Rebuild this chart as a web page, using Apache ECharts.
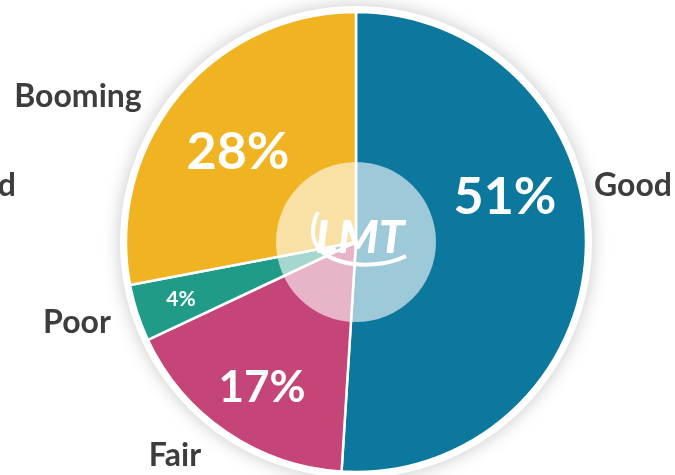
<!DOCTYPE html>
<html>
<head>
<meta charset="utf-8">
<script src="https://cdn.jsdelivr.net/npm/echarts@6/dist/echarts.min.js"></script>
<style>
    html, body { margin: 0; padding: 0; background: #fff; }
    #chart { width: 675px; height: 475px; }
</style>
</head>
<body>
<div id="chart"></div>
<script>
    // market condition shares
    var categories = ['Good', 'Fair', 'Poor', 'Booming'];
    var shares = [51, 17, 4, 28];
    var colors = ['#0c789d', '#c64579', '#1f9b87', '#f0b321'];

    // where the labels sit (percent labels inside, names outside)
    var pctSpots = [[505, 197, 52], [262, 388, 44], [181, 299, 21], [238, 152, 52]];
    var nameSpots = [[633, 186], [175, 456], [77, 323], [78, 97]];

    var chart = echarts.init(document.getElementById('chart'));

    var pieData = categories.map(function (name, i) {
        return {
            name: name, value: shares[i],
            itemStyle: {color: colors[i]},
            label: {fontSize: pctSpots[i][2]}
        };
    });

    chart.setOption({
        animation: false,
        textStyle: {fontFamily: 'Lato'},
        graphic: [
            // cut-off label on the far left
            {
                type: 'text', x: 16, y: 186, z: 10,
                style: {
                    text: 'Bad', fill: '#3d3d3d', align: 'right', verticalAlign: 'middle',
                    font: 'bold 32px Lato'
                }
            },
            // LMT logo swoosh
            {
                type: 'bezierCurve', z: 20, silent: true,
                shape: {x1: 318, y1: 212, cpx1: 292, cpy1: 266, cpx2: 372, cpy2: 274, x2: 406, y2: 256},
                style: {stroke: '#fff', lineWidth: 4, fill: null}
            },
            {
                type: 'text', z: 20, x: 360, y: 238, silent: true,
                style: {
                    text: 'LMT', fill: '#fff', align: 'center', verticalAlign: 'middle',
                    font: 'italic 900 46px Lato'
                }
            }
        ],
        series: [
            {
                // white ring with soft shadow
                type: 'pie', silent: true, z: 1,
                center: [356, 242], radius: [0, 236],
                label: {show: false}, labelLine: {show: false},
                itemStyle: {color: '#fff', shadowBlur: 18, shadowColor: 'rgba(0,0,0,0.22)'},
                data: [1]
            },
            {
                type: 'pie', z: 2,
                center: [356, 242], radius: [0, 230],
                startAngle: 90, clockwise: true,
                itemStyle: {borderColor: '#fff', borderWidth: 2.5},
                label: {
                    show: true, position: 'inside', color: '#fff',
                    formatter: '{c}%', fontWeight: 'bold'
                },
                labelLayout: function (p) {
                    var s = pctSpots[p.dataIndex];
                    return {x: s[0], y: s[1], align: 'center', verticalAlign: 'middle'};
                },
                labelLine: {show: false},
                data: pieData
            },
            {
                // names outside
                type: 'pie', silent: true, z: 3,
                center: [356, 242], radius: [0, 230],
                startAngle: 90,
                itemStyle: {color: 'transparent'},
                label: {
                    show: true, position: 'outside', formatter: '{b}', overflow: 'none',
                    color: '#3d3d3d', fontSize: 32, fontWeight: 'bold'
                },
                labelLayout: function (p) {
                    var s = nameSpots[p.dataIndex];
                    return {x: s[0], y: s[1], align: 'center', verticalAlign: 'middle'};
                },
                labelLine: {show: false},
                data: categories.map(function (name, i) {
                    return {name: name, value: shares[i]};
                })
            },
            {
                // translucent centre disc
                type: 'pie', silent: true, z: 4,
                center: [356, 242], radius: [0, 80],
                label: {show: false}, labelLine: {show: false},
                itemStyle: {color: 'rgba(255,255,255,0.6)'},
                data: [1]
            }
        ]
    });
</script>
</body>
</html>
